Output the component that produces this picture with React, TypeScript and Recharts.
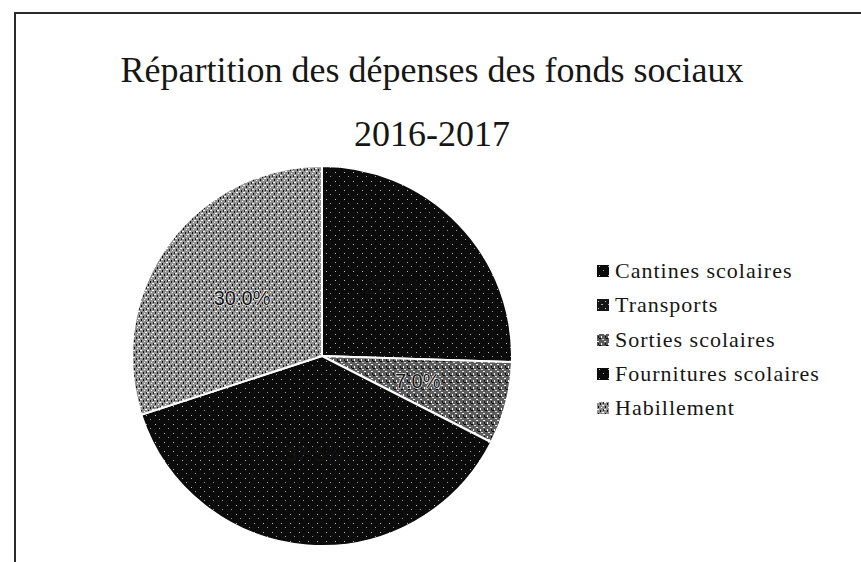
import React from 'react';
import { PieChart, Pie, Cell, Legend } from 'recharts';

const categories = ['Cantines scolaires', 'Transports', 'Sorties scolaires', 'Fournitures scolaires', 'Habillement'];
const values = [25.5, 0, 7.0, 37.5, 30.0];
const fillIds = ['darkA', 'darkB', 'lightA', 'darkA', 'lightB'];
const lightSlices = [false, false, true, false, true];
const titleLines = ['Répartition des dépenses des fonds sociaux', '2016-2017'];

const data = categories.map((name, i) => ({ name, value: values[i] }));

const RADIAN = Math.PI / 180;

const renderLabel = (props: any) => {
  const { cx, cy, midAngle, outerRadius, percent, index } = props;
  if (!values[index]) return null;
  const r = outerRadius * 0.52;
  const x = cx + r * Math.cos(-midAngle * RADIAN);
  const y = cy + r * Math.sin(-midAngle * RADIAN);
  const light = lightSlices[index];
  return (
    <text
      x={x}
      y={y}
      textAnchor="middle"
      dominantBaseline="central"
      fontFamily="'Liberation Sans', Arial, sans-serif"
      fontSize={20}
      fill="#111"
      stroke={light ? '#fff' : 'none'}
      strokeWidth={light ? 1.2 : 0}
      paintOrder="stroke"
    >
      {(percent * 100).toFixed(1) + '%'}
    </text>
  );
};

const renderLegend = () => (
  <div style={{ fontFamily: "'Liberation Serif', 'Times New Roman', serif", fontSize: 22, letterSpacing: 1, color: '#161616' }}>
    {categories.map((c, i) => (
      <div key={c} style={{ display: 'flex', alignItems: 'center', height: 34.3 }}>
        <svg width={12} height={12} style={{ marginRight: 6 }}>
          <rect x={0} y={0} width={12} height={12} fill={`url(#${fillIds[i]})`} />
        </svg>
        <span>{c}</span>
      </div>
    ))}
  </div>
);

export default function App() {
  return (
    <div style={{ position: 'absolute', left: 0, top: 0, width: 861, height: 562, background: '#fff', overflow: 'hidden' }}>
      <div style={{ position: 'absolute', left: 14, top: 12, width: 847, height: 550, borderTop: '2px solid #2a2a2a', borderLeft: '2px solid #2a2a2a' }} />
      <div
        style={{
          position: 'absolute',
          left: 80,
          top: 38,
          width: 704,
          textAlign: 'center',
          fontFamily: "'Liberation Serif', 'Times New Roman', serif",
          fontSize: 36,
          lineHeight: '64px',
          color: '#161616',
        }}
      >
        {titleLines.map((t) => (
          <div key={t}>{t}</div>
        ))}
      </div>
      <PieChart width={861} height={562} style={{ position: 'absolute', left: 0, top: 0 }}>
        <defs>
          <pattern id="darkA" patternUnits="userSpaceOnUse" width={9} height={9}>
            <rect width={9} height={9} fill="#0b0b0b" />
            <rect x={2} y={1} width={1} height={1} fill="#bbb" />
            <rect x={6} y={5} width={1} height={1} fill="#999" />
          </pattern>
          <pattern id="darkB" patternUnits="userSpaceOnUse" width={7} height={7}>
            <rect width={7} height={7} fill="#151515" />
            <rect x={1} y={2} width={1} height={1} fill="#ccc" />
            <rect x={4} y={5} width={2} height={1} fill="#aaa" />
          </pattern>
          <pattern id="lightA" patternUnits="userSpaceOnUse" width={7} height={7}>
            <rect width={7} height={7} fill="#5c5c5c" />
            <rect x={0} y={0} width={2} height={1} fill="#eee" />
            <rect x={4} y={2} width={1} height={2} fill="#fff" />
            <rect x={2} y={4} width={2} height={1} fill="#000" />
            <rect x={5} y={5} width={2} height={1} fill="#ddd" />
            <rect x={1} y={2} width={1} height={2} fill="#111" />
          </pattern>
          <pattern id="lightB" patternUnits="userSpaceOnUse" width={7} height={7}>
            <rect width={7} height={7} fill="#909090" />
            <rect x={0} y={0} width={2} height={1} fill="#fff" />
            <rect x={3} y={1} width={1} height={2} fill="#111" />
            <rect x={5} y={3} width={2} height={1} fill="#fff" />
            <rect x={1} y={4} width={1} height={2} fill="#0a0a0a" />
            <rect x={4} y={5} width={1} height={1} fill="#fafafa" />
            <rect x={6} y={0} width={1} height={2} fill="#222" />
          </pattern>
        </defs>
        <Pie
          data={data}
          dataKey="value"
          nameKey="name"
          cx={317}
          cy={351}
          outerRadius={190}
          startAngle={90}
          endAngle={-270}
          stroke="#fff"
          strokeWidth={2}
          label={renderLabel}
          labelLine={false}
          isAnimationActive={false}
        >
          {data.map((d, i) => (
            <Cell key={d.name} fill={`url(#${fillIds[i]})`} />
          ))}
        </Pie>
        <Legend
          layout="vertical"
          align="right"
          verticalAlign="top"
          content={renderLegend}
          wrapperStyle={{ position: 'absolute', left: 597, top: 254, width: 264 }}
        />
      </PieChart>
    </div>
  );
}
